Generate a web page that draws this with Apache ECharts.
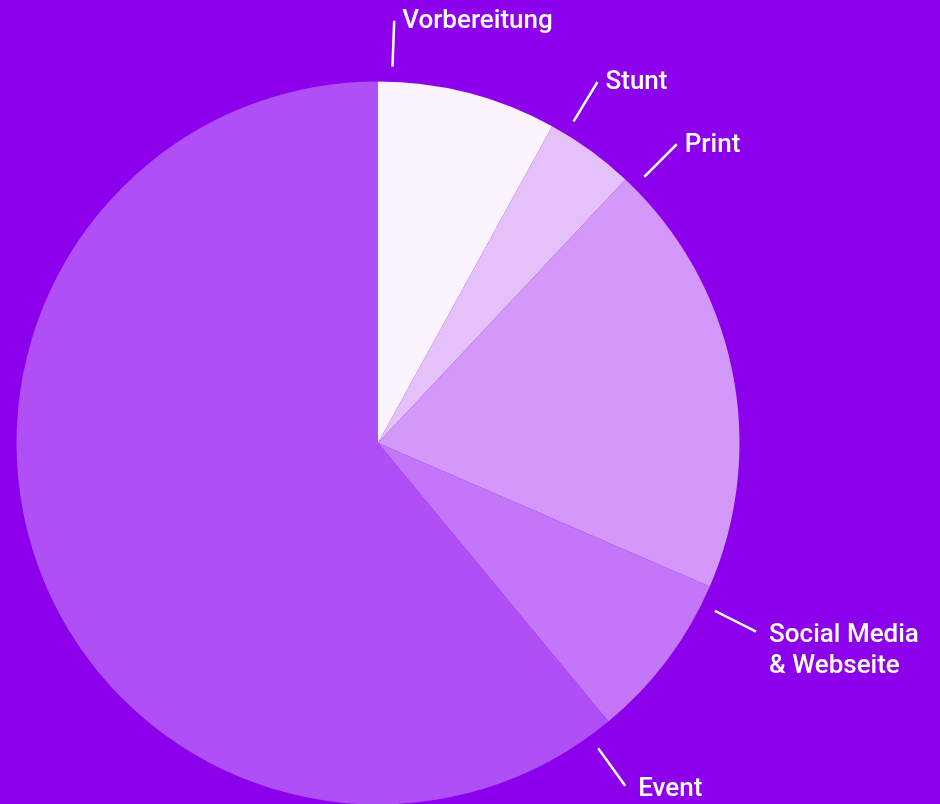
<!DOCTYPE html>
<html>
<head>
<meta charset="utf-8">
<script src="https://cdn.jsdelivr.net/npm/echarts@6/dist/echarts.min.js"></script>
<style>
	html, body { margin: 0; padding: 0; background: #8c00eb; }
	#chart { width: 940px; height: 804px; }
</style>
</head>
<body>
<div id="chart"></div>
<script>
// Budgetverteilung (Anteile in %)
var categories = ['Vorbereitung', 'Stunt', 'Print', 'Social Media\n& Webseite', 'Event'];
var values = [8, 4, 19.5, 7.5, 61];
var colors = ['#fbf4fe', '#e4c1f8', '#d497fa', '#c376f8', '#b14ff7'];

// where the label lines sit (degrees clockwise from 12 o'clock)
var labelAngles = [2.2, 31.3, 45, 116.5, 144.2];

var CX = 378, CY = 443, R = 361.5;

var chart = echarts.init(document.getElementById('chart'));

var data = [];
for (var i = 0; i < categories.length; i++){
	data.push({ name: categories[i], value: values[i], itemStyle: { color: colors[i] } });
}

var option = {
	backgroundColor: '#8c00eb',
	animation: false,
	series: [
		{
			type: 'pie',
			center: [CX, CY],
			radius: [0, R],
			startAngle: 90,
			clockwise: true,
			itemStyle: { borderWidth: 0 },
			label: {
				show: true,
				position: 'outside',
				color: '#ffffff',
				fontFamily: 'Roboto',
				fontWeight: 500,
				fontSize: 26,
				lineHeight: 31,
				width: 240,
				overflow: 'none'
			},
			labelLine: {
				show: true,
				smooth: false,
				lineStyle: { color: '#ffffff', width: 2.5 }
			},
			labelLayout: function(p){
				var a = labelAngles[p.dataIndex] * Math.PI / 180;
				var r0 = R + 15, r1 = R + 61;
				var x1 = CX + r0 * Math.sin(a), y1 = CY - r0 * Math.cos(a);
				var x2 = CX + r1 * Math.sin(a), y2 = CY - r1 * Math.cos(a);
				var lower = Math.cos(a) < 0;
				return {
					x: x2 + (lower ? 13 : 8),
					y: y2 - 15.5 + (lower ? 4 : 1),
					align: 'left',
					verticalAlign: 'top',
					labelLinePoints: [[x1, y1], [(x1 + x2) / 2, (y1 + y2) / 2], [x2, y2]]
				};
			},
			data: data
		}
	]
};
chart.setOption(option);
</script>
</body>
</html>
